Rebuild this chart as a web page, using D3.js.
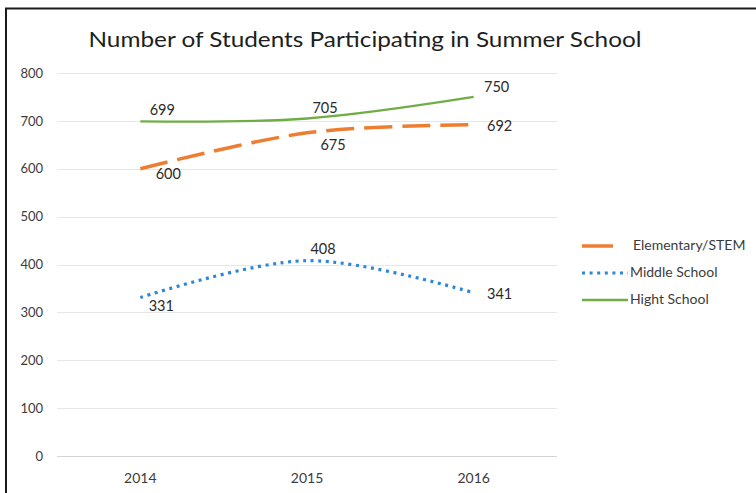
<!DOCTYPE html>
<html>
<head>
<meta charset="utf-8">
<script src="https://cdn.jsdelivr.net/npm/d3@7"></script>
<style>
  html, body { margin: 0; padding: 0; background: #fff; }
  svg { display: block; }
  text { font-family: Lato, "Open Sans", sans-serif; }
</style>
</head>
<body>
<svg id="chart" width="756" height="493"></svg>
<script>
// Summer school participation by school level
const years = ["2014", "2015", "2016"];
const seriesNames = ["Elementary/STEM", "Middle School", "Hight School"];
const elementary = [600, 675, 692];
const middle = [331, 408, 341];
const high = [699, 705, 750];
const yTicks = [0, 100, 200, 300, 400, 500, 600, 700, 800];
const chartTitle = "Number of Students Participating in Summer School";

// label nudges (dx, dy) per point, in drawing order
const labelNudge = {
  "Elementary/STEM": [[28, 7], [26, 13], [26, 3]],
  "Middle School": [[21, 10], [16, -10], [26, 3]],
  "Hight School": [[22, -10], [18, -9], [23, -9]]
};

const styles = {
  "Elementary/STEM": { color: "#ED7D31", width: 3.5, dash: "28,10", legendDash: "31,30" },
  "Middle School": { color: "#2E86D6", width: 3.2, dash: "3,4.6", legendDash: "3,4.6" },
  "Hight School": { color: "#70AD47", width: 2.4, dash: null, legendDash: null }
};

const series = [
  { name: seriesNames[0], values: elementary },
  { name: seriesNames[1], values: middle },
  { name: seriesNames[2], values: high }
];

const svg = d3.select("#chart");

// frame
svg.append("rect")
  .attr("x", 6).attr("y", 8.5)
  .attr("width", 800).attr("height", 600)
  .attr("fill", "#fff")
  .attr("stroke", "#1a1a1a")
  .attr("stroke-width", 2);

const plot = { left: 57, right: 557, top: 73, bottom: 456 };

const x = d3.scaleBand().domain(years).range([plot.left, plot.right]);
const y = d3.scaleLinear().domain([0, 800]).range([plot.bottom, plot.top]);

// title
svg.append("text")
  .attr("x", 365).attr("y", 42)
  .attr("text-anchor", "middle")
  .attr("dominant-baseline", "middle")
  .attr("font-family", "'Open Sans', Lato, sans-serif")
  .attr("font-size", 21)
  .attr("textLength", 553)
  .attr("lengthAdjust", "spacingAndGlyphs")
  .attr("fill", "#1e1e1e")
  .text(chartTitle);

// gridlines
svg.append("g")
  .selectAll("line")
  .data(yTicks)
  .join("line")
  .attr("x1", plot.left).attr("x2", plot.right)
  .attr("y1", d => Math.round(y(d)) + 0.5)
  .attr("y2", d => Math.round(y(d)) + 0.5)
  .attr("stroke", d => d === 0 ? "#d4d4d4" : "#e6e6e6")
  .attr("stroke-width", 1);

// y axis
const yAxis = d3.axisLeft(y).tickValues(yTicks).tickSize(0).tickPadding(0);
const yg = svg.append("g")
  .attr("transform", `translate(43,0)`)
  .call(yAxis);
yg.select(".domain").remove();
yg.selectAll("text")
  .attr("font-family", "Lato, 'Open Sans', sans-serif")
  .attr("font-size", 13)
  .attr("fill", "#3c3c3c");

// x axis
const xAxis = d3.axisBottom(x).tickSize(0).tickPadding(0);
const xg = svg.append("g")
  .attr("transform", `translate(0,473)`)
  .call(xAxis);
xg.select(".domain").remove();
xg.selectAll("text")
  .attr("font-family", "Lato, 'Open Sans', sans-serif")
  .attr("font-size", 14)
  .attr("fill", "#3c3c3c");

const cx = yr => x(yr) + x.bandwidth() / 2;

// smoothed lines
const line = d3.line()
  .x((d, i) => cx(years[i]))
  .y(d => y(d))
  .curve(d3.curveCardinal.tension(0));

// series lines
svg.append("g")
  .selectAll("path")
  .data(series)
  .join("path")
  .attr("d", d => line(d.values))
  .attr("fill", "none")
  .attr("stroke", d => styles[d.name].color)
  .attr("stroke-width", d => styles[d.name].width)
  .attr("stroke-dasharray", d => styles[d.name].dash);

// data labels
series.forEach(s => {
  svg.append("g")
    .selectAll("text")
    .data(s.values)
    .join("text")
    .attr("x", (d, i) => cx(years[i]) + labelNudge[s.name][i][0])
    .attr("y", (d, i) => y(d) + labelNudge[s.name][i][1])
    .attr("text-anchor", "middle")
    .attr("dominant-baseline", "middle")
    .attr("font-size", 14.5)
    .attr("fill", "#2a2a2a")
    .text(d => d);
});

// legend
const legend = svg.append("g")
  .selectAll("g")
  .data(seriesNames)
  .join("g")
  .attr("transform", (d, i) => `translate(582,${246 + i * 27})`);

legend.append("line")
  .attr("x1", 0).attr("x2", 46)
  .attr("y1", 0).attr("y2", 0)
  .attr("stroke", d => styles[d].color)
  .attr("stroke-width", d => styles[d].width)
  .attr("stroke-dasharray", d => styles[d].legendDash);

legend.append("text")
  .attr("x", (d, i) => i === 0 ? 51 : 48)
  .attr("y", 0)
  .attr("dominant-baseline", "middle")
  .attr("font-size", 14)
  .attr("fill", "#3c3c3c")
  .text(d => d);
</script>
</body>
</html>
